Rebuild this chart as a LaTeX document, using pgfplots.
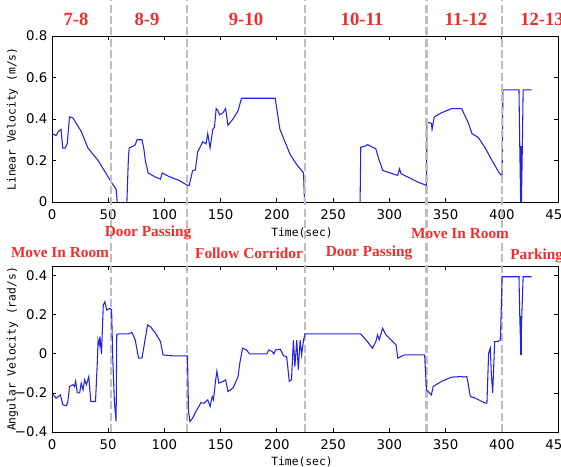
\documentclass[border=0pt]{standalone}
\usepackage{pgfplots}
\pgfplotsset{compat=1.18}
\usepackage{fontspec}
\setmainfont{DejaVu Sans}
\newfontfamily\redfont{Liberation Serif}
\newfontfamily\monofont{DejaVu Sans Mono}
\definecolor{redc}{RGB}{240,45,45}
\definecolor{bluec}{RGB}{35,35,225}
\definecolor{grayd}{RGB}{190,190,190}
\pgfplotsset{
  myaxis/.style={
    scale only axis, width=379.5pt, height=124.5pt,
    anchor=south west,
    xmin=0, xmax=450, xtick={0,50,...,450},
    tick align=inside, tick pos=both,
    major tick length=3pt,
    unbounded coords=jump,
    axis line style={line width=0.6pt},
    every tick/.style={black, line width=0.6pt},
    /pgf/number format/assume math mode=true,
    tick label style={font=\fontsize{10}{12}\selectfont},
    xticklabel style={yshift=-2pt},
    label style={font=\monofont\fontsize{8.5}{10}\selectfont},
    ylabel style={at={(axis description cs:-0.078,0.5)}, anchor=center},
  }
}
\begin{document}
\begin{tikzpicture}[x=0.75pt,y=0.75pt]
\useasboundingbox (0,0) rectangle (561,467);
% top axis
\begin{axis}[myaxis, at={(39pt,198.75pt)},
  ymin=0, ymax=0.8, ytick={0,0.2,0.4,0.6,0.8},
  yticklabels={0,0.2,0.4,0.6,0.8},
  ylabel={Linear Velocity (m/s)}]
\addplot[bluec, line width=0.8pt] table {
0 0.33
3.6 0.32
5.7 0.34
8 0.35
9.6 0.26
11.7 0.26
13.5 0.28
15.6 0.41
18.6 0.405
26 0.34
32 0.26
41 0.20
50 0.12
54.6 0.08
57 0.064
58 0
60 nan
66.6 0
68 0.22
68.7 0.26
72.5 0.27
74 0.275
75.6 0.30
80 0.30
81.6 0.26
83 0.20
85.5 0.14
92 0.12
96.5 0.11
98 0.14
104 0.123
113 0.104
120.5 0.08
122 0.08
125 0.15
127.5 0.155
129.5 0.24
134 0.29
137 0.28
138.5 0.33
140.6 0.26
143 0.35
144.5 0.36
146 0.45
147.6 0.44
149 0.42
152 0.43
154.4 0.45
156.5 0.37
161 0.40
165.5 0.44
168.5 0.50
188 0.50
198.5 0.50
202.7 0.35
205.7 0.31
211.7 0.23
217.7 0.18
223.7 0.14
224.6 0
240 nan
274 0
274.6 0.264
279 0.27
280.5 0.277
285 0.264
288 0.256
291 0.20
292.5 0.18
294 0.152
298.5 0.144
307.5 0.128
309 0.16
310.5 0.136
316.5 0.12
325.4 0.096
333 0.08
333.5 0.384
337.4 0.38
338 0.35
340 0.41
346.4 0.43
355.4 0.45
364.4 0.45
366 0.43
370.4 0.38
373.4 0.33
379.3 0.31
385.3 0.26
391.3 0.20
397.3 0.144
400.3 0.123
401 0.54
415.3 0.54
416 0.27
416.8 0
417.5 0
418.3 0.27
419 0.54
426.5 0.54
};
\addplot[bluec, line width=1.6pt] table {
417 0
417 0.27
};
\end{axis}
% bottom axis
\begin{axis}[myaxis, at={(39pt,26.25pt)}, clip=false,
  ymin=-0.4, ymax=0.45, ytick={-0.4,-0.2,0,0.2,0.4},
  yticklabels={−0.4,−0.2,0,0.2,0.4},
  ylabel={Angular Velocity (rad/s)}]
\foreach \xv in {52.5,120,225,333,400}{
  \edef\tmp{\noexpand\draw[grayd, line width=1.8pt, dash pattern=on 6pt off 2.5pt] (axis cs:\xv,-0.4) -- (axis cs:\xv,1.82);}\tmp
}
\addplot[bluec, line width=0.8pt] table {
0 -0.21
1.2 -0.21
3.6 -0.227
5.7 -0.218
7.5 -0.21
9.6 -0.26
12.6 -0.266
14 -0.25
15.6 -0.167
18.6 -0.158
20 -0.167
21 -0.14
22.5 -0.2
24.6 -0.2
26 -0.15
27.6 -0.184
29 -0.133
30.6 -0.158
32.7 -0.116
34.5 -0.244
38.7 -0.244
40.2 -0.056
41 0.07
42 0.046
42.6 0.09
44 0
45.6 0.25
47 0.267
48.6 0.225
51.6 0.233
53 0.225
54 -0.014
55.5 -0.25
57 -0.346
57.6 0.097
59 0.102
68 0.102
71 0.11
74 0.072
77 -0.022
80 -0.022
83 0.08
85 0.148
87.5 0.14
92 0.106
96.5 0.063
98.7 -0.005
107 -0.01
120.5 -0.01
121.4 -0.295
122.6 -0.346
125 -0.33
128 -0.295
132.5 -0.25
135.5 -0.252
138.5 -0.235
140.6 -0.27
142.5 -0.218
143.6 -0.235
145.4 -0.141
146.6 -0.09
148.4 -0.15
152 -0.141
154.4 -0.133
156.5 -0.193
161 -0.175
165.5 -0.116
167 -0.048
169.5 0.029
173 0.02
175.6 0
191 0
192.8 0.02
195.8 0.012
197.3 0
198.8 0.02
203 0.024
206 -0.01
208.7 -0.014
211 -0.14
213 -0.133
214.7 0.07
216 -0.065
217.7 0.07
219 -0.08
220.7 0.07
222 -0.005
223.7 0.07
225 0.102
274.5 0.102
280.5 0.063
285 0.029
288 0.063
289.5 0.097
291 0.072
294 0.131
297 0.097
306 0.046
307.5 -0.022
313.5 -0.005
331.4 -0.005
333 -0.184
337.4 -0.21
339 -0.167
346.4 -0.141
355.4 -0.119
364.4 -0.116
366 -0.119
369 -0.116
372 -0.218
376.6 -0.227
385.3 -0.252
386.8 -0.252
388.3 0.003
389.8 0.029
390.7 -0.1
391.9 -0.2
393.7 0.063
396.7 0.063
398.8 0.072
400.3 0.395
415.3 0.395
416 0.195
417 -0.005
417.8 0.195
419 0.395
426.5 0.395
};
\addplot[bluec, line width=1.6pt] table {
417 -0.005
417 0.195
};
\end{axis}
% axis titles
\node[font=\monofont\fontsize{8.5}{10}\selectfont, inner sep=0pt] at (302,234) {Time(sec)};
\node[font=\monofont\fontsize{8.5}{10}\selectfont, inner sep=0pt] at (302,5) {Time(sec)};
% labels
\begin{scope}[every node/.style={text=redc, inner sep=0pt}]
\def\big{\redfont\bfseries\fontsize{14}{16}\selectfont}
\def\sm{\redfont\bfseries\fontsize{11.5}{13}\selectfont}
\node[font=\big] at (76,448) {7-8};
\node[font=\big] at (147,448) {8-9};
\node[font=\big] at (246,448) {9-10};
\node[font=\big] at (362,448) {10-11};
\node[font=\big] at (466,448) {11-12};
\node[font=\big, anchor=west] at (520,448) {12-13};
\node[font=\sm] at (148,234) {Door Passing};
\node[font=\sm] at (460,233) {Move In Room};
\node[font=\sm] at (60,214) {Move In Room};
\node[font=\sm] at (249,214) {Follow Corridor};
\node[font=\sm] at (369,214) {Door Passing};
\node[font=\sm, anchor=west] at (510,211) {Parking};
\end{scope}
\end{tikzpicture}
\end{document}
